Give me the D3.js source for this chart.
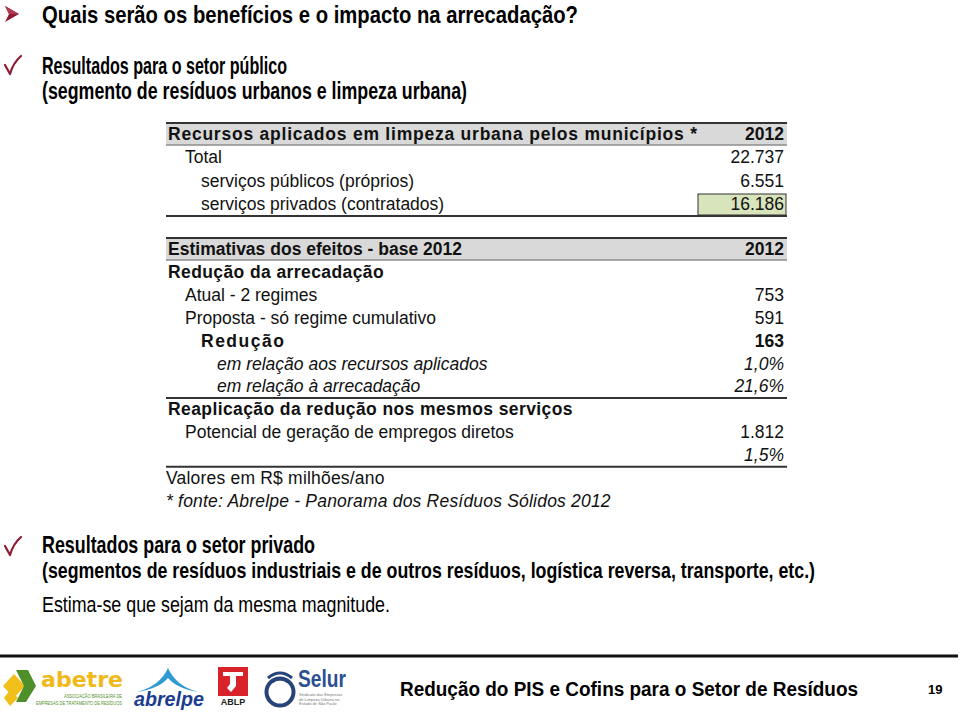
<!DOCTYPE html>
<html>
<head>
<meta charset="utf-8">
<script src="https://cdn.jsdelivr.net/npm/d3@7"></script>
<style>
  body { margin: 0; background: #fff; }
  svg { display: block; }
</style>
</head>
<body>
<svg id="slide" width="960" height="717"></svg>
<script>
// --- slide texts -------------------------------------------------------
var title = "Quais serão os benefícios e o impacto na arrecadação?";
var publicLines = ["Resultados para o setor público",
                   "(segmento de resíduos urbanos e limpeza urbana)"];
var privateLines = ["Resultados para o setor privado",
                    "(segmentos de resíduos industriais e de outros resíduos, logística reversa, transporte, etc.)"];
var privateNote = "Estima-se que sejam da mesma magnitude.";
var footerText = "Redução do PIS e Cofins para o Setor de Resíduos";
var pageNumber = "19";

// --- table 1: recursos aplicados --------------------------------------
var t1Header = ["Recursos aplicados em limpeza urbana pelos municípios *", "2012"];
var t1Labels = ["Total", "serviços públicos (próprios)", "serviços privados (contratados)"];
var t1Values = [22737, 6551, 16186];
var t1Kinds  = ["item", "sub", "sub"];

// --- table 2: estimativas ---------------------------------------------
var t2Header = ["Estimativas dos efeitos - base 2012", "2012"];
var t2Labels = ["Redução da arrecadação", "Atual - 2 regimes", "Proposta - só regime cumulativo",
                "Redução", "em relação aos recursos aplicados", "em relação à arrecadação",
                "Reaplicação da redução nos mesmos serviços",
                "Potencial de geração de empregos diretos", ""];
var t2Values = [null, 753, 591, 163, 0.010, 0.216, null, 1812, 0.015];
var t2Kinds  = ["group", "item", "item", "total", "ratio", "ratio", "group", "item", "ratio"];
var t2Notes  = ["Valores em R$ milhões/ano", "* fonte: Abrelpe - Panorama dos Resíduos Sólidos 2012"];

var ptBR = d3.formatLocale({decimal: ",", thousands: ".", grouping: [3], currency: ["R$", ""]});
var fmtNum = ptBR.format(",d"), fmtPct = ptBR.format(".1%");
function fmtValue(v, kind) { return v == null ? "" : (kind == "ratio" ? fmtPct(v) : fmtNum(v)); }

var svg = d3.select("#slide");
var red = "#8c1b34";
var narrow = "'Liberation Sans Narrow', 'Arial Narrow', 'Liberation Sans', Arial, sans-serif";
var sans = "'Liberation Sans', Arial, Helvetica, sans-serif";

// --- headings -----------------------------------------------------------
svg.append("path").attr("d", "M5,6 L19,14 L5,22 L9,14 Z").attr("fill", red);
svg.append("path").attr("d", "M5,6 L19,14 L9,14 Z").attr("fill", "#b0384f");
svg.append("text").attr("x", 42).attr("y", 23)
   .attr("font-family", sans).attr("font-weight", "bold").attr("font-size", 24)
   .attr("textLength", 536).attr("lengthAdjust", "spacingAndGlyphs")
   .text(title);

function check(y) {
    svg.append("path")
       .attr("d", "M5," + (y + 10) + " L10," + (y + 19) + " Q13," + (y + 8) + " 21," + (y + 1))
       .attr("fill", "none").attr("stroke", red).attr("stroke-width", 2.2)
       .attr("stroke-linecap", "round").attr("stroke-linejoin", "round");
}
function narrowLines(lines, y0, widths, sizes) {
    svg.selectAll(null).data(lines).enter().append("text")
       .attr("x", 42).attr("y", (d, i) => y0 + i * 25)
       .attr("font-family", narrow).attr("font-weight", "bold")
       .attr("font-size", (d, i) => sizes[i])
       .attr("textLength", (d, i) => widths[i]).attr("lengthAdjust", "spacingAndGlyphs")
       .text((d) => d);
}
check(55);
narrowLines(publicLines, 74, [245, 425], [23, 23]);
check(536);
narrowLines(privateLines, 553, [273, 773], [23, 22]);
svg.append("text").attr("x", 42).attr("y", 612)
   .attr("font-family", narrow).attr("font-size", 22.5)
   .attr("textLength", 348).attr("lengthAdjust", "spacingAndGlyphs")
   .text(privateNote);

// --- tables -------------------------------------------------------------
var xLeft = 166, xRight = 787, xVal = 784;
var indent = {group: 168, item: 185, sub: 201, total: 201, ratio: 217};

function table(g, header, headerLen, labels, values, kinds, yScale) {
    var h0 = yScale(0);
    g.append("rect").attr("x", xLeft).attr("y", h0 - 10.5)
     .attr("width", xRight - xLeft).attr("height", 21).attr("fill", "#d9d9d9");
    g.append("line").attr("x1", xLeft).attr("x2", xRight)
     .attr("y1", h0 - 11).attr("y2", h0 - 11).attr("stroke", "#333").attr("stroke-width", 2);
    g.append("line").attr("x1", xLeft).attr("x2", xRight)
     .attr("y1", h0 + 11).attr("y2", h0 + 11).attr("stroke", "#555").attr("stroke-width", 1);
    g.append("text").attr("x", 168).attr("y", h0 + 6)
     .attr("font-weight", "bold")
     .attr("textLength", headerLen).attr("lengthAdjust", "spacing")
     .text(header[0]);
    g.append("text").attr("x", xVal).attr("y", h0 + 6).attr("text-anchor", "end")
     .attr("font-weight", "bold").text(header[1]);

    var rows = g.selectAll("g.row").data(labels).enter().append("g")
        .attr("class", "row")
        .attr("transform", (d, i) => "translate(0," + (yScale(i + 1) + 6) + ")");
    rows.append("text")
        .attr("x", (d, i) => indent[kinds[i]])
        .attr("font-weight", (d, i) => (kinds[i] == "group" || kinds[i] == "total") ? "bold" : "normal")
        .attr("font-style", (d, i) => kinds[i] == "ratio" ? "italic" : "normal")
        .attr("letter-spacing", (d, i) => kinds[i] == "group" ? 0.4 : (kinds[i] == "total" ? 1.5 : 0))
        .text((d) => d);
    rows.append("text")
        .attr("x", xVal).attr("text-anchor", "end")
        .attr("font-weight", (d, i) => kinds[i] == "total" ? "bold" : "normal")
        .attr("font-style", (d, i) => kinds[i] == "ratio" ? "italic" : "normal")
        .text((d, i) => fmtValue(values[i], kinds[i]));
}

var y1 = d3.scaleLinear().domain([0, 3]).range([134, 204]);
var t1 = svg.append("g").attr("font-family", sans).attr("font-size", 17.5).attr("fill", "#111");
var last1 = y1(3);
t1.append("rect").attr("x", 698).attr("y", last1 - 10).attr("width", 88).attr("height", 21)
  .attr("fill", "#d8e4bc").attr("stroke", "#333").attr("stroke-width", 1);
table(t1, t1Header, 529, t1Labels, t1Values, t1Kinds, y1);
t1.append("line").attr("x1", xLeft).attr("x2", xRight)
  .attr("y1", last1 + 12).attr("y2", last1 + 12).attr("stroke", "#333").attr("stroke-width", 2);

var y2 = d3.scaleLinear().domain([0, 11]).range([249, 501]);
var t2 = svg.append("g").attr("font-family", sans).attr("font-size", 17.5).attr("fill", "#111");
table(t2, t2Header, 294, t2Labels, t2Values, t2Kinds, y2);
[6.5, 9.5].forEach(function (k) {
    t2.append("line").attr("x1", xLeft).attr("x2", xRight)
      .attr("y1", y2(k)).attr("y2", y2(k)).attr("stroke", "#333").attr("stroke-width", 2);
});
t2.selectAll("text.note").data(t2Notes).enter().append("text")
  .attr("class", "note").attr("x", 166)
  .attr("y", (d, i) => y2(10 + i) + 6)
  .attr("font-style", (d, i) => i == 1 ? "italic" : "normal")
  .attr("letter-spacing", 0.2)
  .text((d) => d);

// --- footer -------------------------------------------------------------
svg.append("line").attr("x1", 0).attr("x2", 958).attr("y1", 656).attr("y2", 656)
   .attr("stroke", "#111").attr("stroke-width", 3);
svg.append("text").attr("x", 400).attr("y", 696)
   .attr("font-family", sans).attr("font-weight", "bold").attr("font-size", 19.5)
   .attr("textLength", 458).attr("lengthAdjust", "spacingAndGlyphs")
   .text(footerText);
svg.append("text").attr("x", 928).attr("y", 694)
   .attr("font-family", sans).attr("font-weight", "bold").attr("font-size", 13)
   .text(pageNumber);

// logos (simplified)
var logos = svg.append("g");
// abetre
logos.append("path").attr("d", "M3,686 L14,674 L25,686 L14,698 Z").attr("fill", "#f0bf1a");
logos.append("path").attr("d", "M16,670 L28,670 L36,686 L26,702 L16,702 L24,686 Z").attr("fill", "#4f8f2a");
logos.append("path").attr("d", "M10,690 L18,698 L10,706 L4,698 Z").attr("fill", "#f0bf1a");
logos.append("text").attr("x", 41).attr("y", 687)
     .attr("font-family", "'DejaVu Sans', sans-serif").attr("font-weight", "bold").attr("font-size", 22)
     .attr("fill", "#f0b91a").attr("textLength", 82).attr("lengthAdjust", "spacingAndGlyphs").text("abetre");
logos.append("text").attr("x", 64).attr("y", 698).attr("font-family", sans).attr("font-size", 4.5)
     .attr("fill", "#4f8f2a").attr("textLength", 58).attr("lengthAdjust", "spacingAndGlyphs")
     .text("ASSOCIAÇÃO BRASILEIRA DE");
logos.append("text").attr("x", 36).attr("y", 705).attr("font-family", sans).attr("font-size", 4.5)
     .attr("fill", "#4f8f2a").attr("textLength", 86).attr("lengthAdjust", "spacingAndGlyphs")
     .text("EMPRESAS DE TRATAMENTO DE RESÍDUOS");
// abrelpe
logos.append("path").attr("d", "M137,692 Q160,686 168,668 Q176,686 198,692 Q176,688 168,678 Q160,688 137,692 Z")
     .attr("fill", "#2f9bd0");
logos.append("text").attr("x", 134).attr("y", 706)
     .attr("font-family", sans).attr("font-weight", "bold").attr("font-style", "italic").attr("font-size", 20)
     .attr("fill", "#1b3d8f").attr("textLength", 70).attr("lengthAdjust", "spacingAndGlyphs").text("abrelpe");
// ABLP
logos.append("rect").attr("x", 218).attr("y", 667).attr("width", 30).attr("height", 29).attr("fill", "#d8232a");
logos.append("path").attr("d", "M223,672 L243,672 L243,676 L236,676 L236,686 L231,692 L227,688 L230,684 L230,676 L223,676 Z")
     .attr("fill", "#fff");
logos.append("text").attr("x", 233).attr("y", 705).attr("text-anchor", "middle")
     .attr("font-family", sans).attr("font-weight", "bold").attr("font-size", 9).attr("fill", "#222").text("ABLP");
// Selur
logos.append("circle").attr("cx", 280).attr("cy", 692).attr("r", 13.5)
     .attr("fill", "none").attr("stroke", "#27437a").attr("stroke-width", 4);
logos.append("path").attr("d", "M268,678 Q280,668 292,678").attr("fill", "none")
     .attr("stroke", "#27437a").attr("stroke-width", 3);
logos.append("path").attr("d", "M272,682 Q280,676 288,682").attr("fill", "none")
     .attr("stroke", "#27437a").attr("stroke-width", 2.5);
logos.append("text").attr("x", 298).attr("y", 687)
     .attr("font-family", sans).attr("font-weight", "bold").attr("font-size", 23)
     .attr("fill", "#2c4f93").attr("textLength", 48).attr("lengthAdjust", "spacingAndGlyphs").text("Selur");
["Sindicato das Empresas", "de Limpeza Urbana no", "Estado de São Paulo"].forEach(function (s, i) {
    logos.append("text").attr("x", 299).attr("y", 696 + i * 4.5)
         .attr("font-family", sans).attr("font-size", 4).attr("fill", "#777").text(s);
});
</script>
</body>
</html>
